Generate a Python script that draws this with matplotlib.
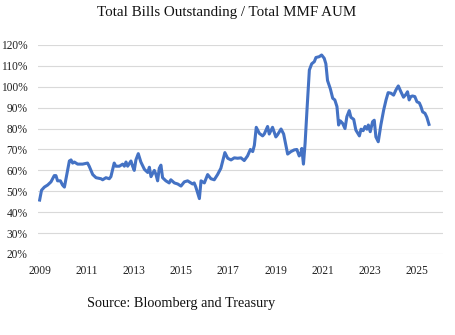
import numpy as np
import matplotlib
matplotlib.use("Agg")
import matplotlib.pyplot as plt
from matplotlib.ticker import FuncFormatter

# ratio of total T-bills outstanding to total money market fund assets (%)
years = [
    2009.00, 2009.08, 2009.20, 2009.34, 2009.48, 2009.62, 2009.69, 2009.76, 2009.88, 2009.97,
    2010.05, 2010.26, 2010.33, 2010.40, 2010.47, 2010.61, 2010.82, 2011.03, 2011.10, 2011.25,
    2011.39, 2011.60, 2011.67, 2011.81, 2011.95, 2012.02, 2012.16, 2012.23, 2012.38, 2012.52,
    2012.59, 2012.66, 2012.73, 2012.87, 2012.94, 2013.01, 2013.08, 2013.18, 2013.29, 2013.44,
    2013.58, 2013.65, 2013.72, 2013.86, 2013.93, 2014.00, 2014.07, 2014.14, 2014.21, 2014.35,
    2014.49, 2014.56, 2014.71, 2014.85, 2014.99, 2015.13, 2015.27, 2015.41, 2015.48, 2015.55,
    2015.62, 2015.77, 2015.84, 2015.98, 2016.12, 2016.26, 2016.40, 2016.54, 2016.68, 2016.85,
    2016.97, 2017.11, 2017.25, 2017.39, 2017.53, 2017.67, 2017.81, 2017.93, 2018.03, 2018.10,
    2018.18, 2018.31, 2018.45, 2018.52, 2018.66, 2018.73, 2018.87, 2019.01, 2019.08, 2019.23,
    2019.34, 2019.51, 2019.65, 2019.79, 2019.90, 2020.00, 2020.07, 2020.11, 2020.18, 2020.25,
    2020.33, 2020.43, 2020.53, 2020.64, 2020.71, 2020.85, 2020.95, 2021.06, 2021.13, 2021.20,
    2021.32, 2021.42, 2021.51, 2021.60, 2021.67, 2021.74, 2021.84, 2021.94, 2022.02, 2022.12,
    2022.19, 2022.31, 2022.40, 2022.55, 2022.62, 2022.71, 2022.79, 2022.87, 2022.93, 2023.01,
    2023.11, 2023.18, 2023.25, 2023.35, 2023.46, 2023.58, 2023.68, 2023.77, 2023.89, 2024.00,
    2024.10, 2024.20, 2024.31, 2024.42, 2024.52, 2024.59, 2024.66, 2024.73, 2024.80, 2024.90,
    2024.99, 2025.09, 2025.16, 2025.23, 2025.33, 2025.41, 2025.50,
]
ratio = [
    45.8, 50.5, 52.0, 53.0, 54.5, 57.5, 57.5, 55.0, 55.0, 53.0,
    52.0, 64.5, 65.0, 63.5, 64.0, 63.0, 63.0, 63.5, 62.0, 58.0,
    56.5, 56.0, 55.5, 56.5, 56.0, 57.0, 63.5, 62.0, 62.0, 63.0,
    62.0, 64.0, 62.0, 64.5, 62.0, 60.0, 65.0, 68.0, 64.0, 60.5,
    59.0, 61.5, 57.0, 60.0, 58.0, 55.0, 61.0, 62.5, 56.5, 55.0,
    54.0, 55.5, 54.0, 53.5, 52.5, 54.5, 55.0, 54.0, 53.5, 54.0,
    52.0, 46.5, 55.0, 54.0, 58.0, 56.0, 55.5, 58.0, 61.0, 68.5,
    65.8, 65.0, 66.0, 65.8, 66.0, 64.7, 66.9, 70.0, 69.0, 72.0,
    80.6, 77.7, 76.5, 77.4, 81.0, 77.4, 80.6, 76.0, 77.0, 79.8,
    77.4, 67.8, 69.0, 69.8, 70.0, 66.9, 68.0, 70.5, 63.0, 73.0,
    89.0, 108.0, 111.0, 112.0, 114.0, 114.4, 115.2, 113.6, 111.0, 103.0,
    99.0, 94.5, 93.7, 90.5, 81.7, 83.7, 82.5, 80.0, 85.7, 88.6,
    85.4, 84.4, 79.3, 76.5, 79.7, 79.0, 81.0, 79.7, 81.7, 78.5,
    83.3, 84.0, 76.0, 73.7, 81.7, 88.9, 93.7, 97.2, 96.9, 96.0,
    98.5, 100.4, 97.6, 95.0, 96.3, 97.6, 93.7, 95.3, 95.6, 95.3,
    92.8, 92.3, 90.5, 88.0, 87.3, 85.4, 82.0,
]
tick_years = [2009, 2011, 2013, 2015, 2017, 2019, 2021, 2023, 2025]
y_ticks = [20, 30, 40, 50, 60, 70, 80, 90, 100, 110, 120]

serif = ["Liberation Serif", "DejaVu Serif"]

fig = plt.figure(figsize=(4.56, 3.35), dpi=100)
fig.patch.set_facecolor("white")
ax = fig.add_axes([0.0833, 0.2418, 0.888, 0.624])

ax.plot(years, ratio, color="#4472C4", lw=2.2, solid_joinstyle="round")

ax.set_xlim(2008.93, 2026.09)
ax.set_ylim(20, 120)
ax.set_xticks(tick_years)
ax.set_yticks(y_ticks)
ax.yaxis.set_major_formatter(FuncFormatter(lambda v, p: f"{v:.0f}%"))
ax.grid(axis="y", color="#d9d9d9", lw=0.8)
ax.set_axisbelow(True)
for s in ax.spines.values():
    s.set_visible(False)
ax.tick_params(length=0, labelsize=8.3, colors="#222222")
ax.tick_params(axis="y", pad=7.5)
ax.tick_params(axis="x", pad=8)
for lab in ax.get_xticklabels() + ax.get_yticklabels():
    lab.set_family(serif)

fig.text(0.498, 0.962, "Total Bills Outstanding / Total MMF AUM",
         ha="center", va="center", fontsize=10.8, family=serif, color="#111111")
fig.text(0.396, 0.095, "Source: Bloomberg and Treasury",
         ha="center", va="center", fontsize=10.3, family=serif, color="#111111")

fig.savefig("out.png", dpi=100, facecolor="white")
